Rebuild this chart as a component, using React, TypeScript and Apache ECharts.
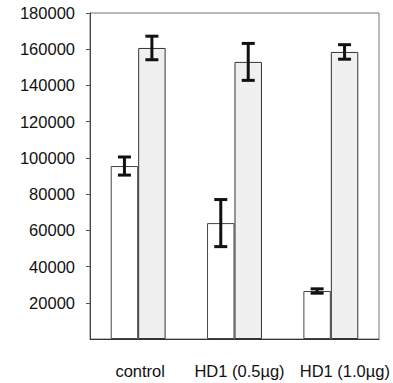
import React, { useEffect, useRef } from "react";
import * as echarts from "echarts";

const categories = ["control", "HD1 (0.5µg)", "HD1 (1.0µg)"];
const whiteValues = [95500, 64000, 26500];
const whiteErrors = [5000, 13000, 1200];
const greyValues = [160700, 153000, 158500];
const greyErrors = [6500, 10200, 4000];
const yTicks = [0, 20000, 40000, 60000, 80000, 100000, 120000, 140000, 160000, 180000];

const BAR_FRACTION = 0.285;

function errorSeries(values: number[], errors: number[], side: number) {
  return {
    type: "custom",
    z: 10,
    renderItem: (params: any, api: any) => {
      const idx = api.value(0);
      const lo = api.coord([idx, api.value(1)]);
      const hi = api.coord([idx, api.value(2)]);
      const band = api.size([1, 0])[0];
      const x = lo[0] + side * band * BAR_FRACTION / 2;
      const cap = 6.5;
      const style = { stroke: "#111", lineWidth: 3, fill: "none" };
      return {
        type: "group",
        children: [
          { type: "line", shape: { x1: x, y1: lo[1], x2: x, y2: hi[1] }, style },
          { type: "line", shape: { x1: x - cap, y1: lo[1], x2: x + cap, y2: lo[1] }, style },
          { type: "line", shape: { x1: x - cap, y1: hi[1], x2: x + cap, y2: hi[1] }, style },
        ],
      };
    },
    data: values.map((v, i) => [i, v - errors[i], v + errors[i]]),
  };
}

export default function App() {
  const ref = useRef<HTMLDivElement>(null);
  useEffect(() => {
    const chart = echarts.init(ref.current!, null, { renderer: "svg" });
    chart.setOption({
      animation: false,
      grid: {
        left: 90,
        right: 14,
        top: 13,
        bottom: 44,
        show: true,
        borderColor: "#777",
        borderWidth: 1,
        backgroundColor: "transparent",
      },
      xAxis: {
        type: "category",
        data: [
          { value: categories[0], textStyle: { padding: [0, 0, 0, 4] } },
          { value: categories[1], textStyle: { padding: [0, 0, 0, 10] } },
          { value: categories[2], textStyle: { padding: [0, 0, 0, 28] } },
        ],
        axisLine: { lineStyle: { color: "#333", width: 1 } },
        axisTick: { show: false },
        axisLabel: {
          margin: 23,
          color: "#111",
          fontFamily: "Liberation Sans, Arial, sans-serif",
          fontSize: 16.5,
          interval: 0,
        },
      },
      yAxis: {
        type: "value",
        min: yTicks[0],
        max: yTicks[yTicks.length - 1],
        interval: yTicks[1] - yTicks[0],
        splitLine: { show: false },
        axisLine: { show: true, lineStyle: { color: "#444", width: 1 } },
        axisTick: { show: true, length: 4, lineStyle: { color: "#555" } },
        axisLabel: {
          showMinLabel: false,
          margin: 15,
          color: "#111",
          fontFamily: "Liberation Sans, Arial, sans-serif",
          fontSize: 16.5,
          formatter: (v: number) => String(v),
        },
      },
      series: [
        {
          type: "bar",
          data: whiteValues,
          barWidth: BAR_FRACTION * 100 + "%",
          barGap: "0%",
          itemStyle: { color: "#ffffff", borderColor: "#444", borderWidth: 1 },
        },
        {
          type: "bar",
          data: greyValues,
          barWidth: BAR_FRACTION * 100 + "%",
          barGap: "0%",
          itemStyle: { color: "#f0f0f0", borderColor: "#333", borderWidth: 1 },
        },
        errorSeries(whiteValues, whiteErrors, -1),
        errorSeries(greyValues, greyErrors, 1),
      ],
    });
    return () => chart.dispose();
  }, []);
  return <div ref={ref} style={{ width: 393, height: 383, position: "absolute", left: 0, top: 0 }} />;
}
